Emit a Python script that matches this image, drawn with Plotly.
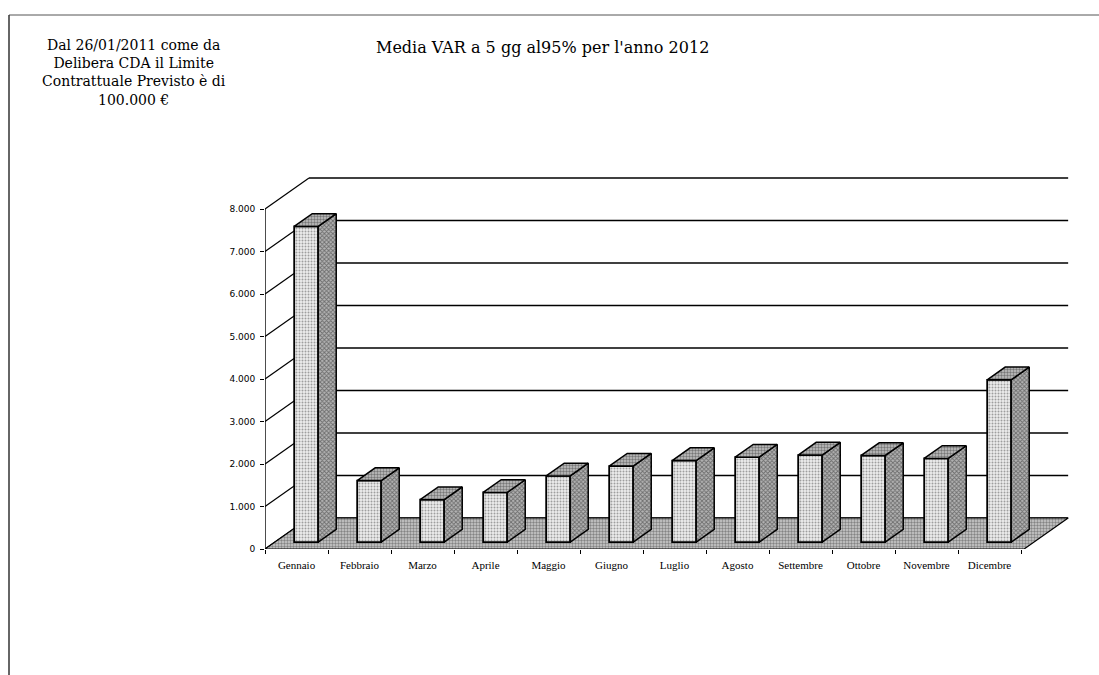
import plotly.graph_objects as go

# Monthly average VaR (5 days, 95%) for 2012
mesi = ["Gennaio", "Febbraio", "Marzo", "Aprile", "Maggio", "Giugno",
        "Luglio", "Agosto", "Settembre", "Ottobre", "Novembre", "Dicembre"]
var_medio = [7430, 1450, 1000, 1170, 1560, 1790, 1920, 2000, 2050, 2040, 1970, 3820]
y_ticks = [0, 1000, 2000, 3000, 4000, 5000, 6000, 7000, 8000]
y_tick_text = ["0", "1.000", "2.000", "3.000", "4.000", "5.000", "6.000", "7.000", "8.000"]

# Page / plot-area geometry (pixels)
W, H = 1099, 675
ML, MR, MT, MB = 265, 24, 170, 126
PW, PH = W - ML - MR, H - MT - MB
PX_PER_CAT = 63.0            # horizontal pixels per category
PX_PER_UNIT = 0.0425         # vertical pixels per euro
X0 = -0.5
X1 = X0 + PW / PX_PER_CAT
Y1 = PH / PX_PER_UNIT

# Oblique depth of the 3-D box (in data units)
DX = 44 / PX_PER_CAT
DY = 31 / PX_PER_UNIT
F0, F1 = 0.22, 0.63          # depth fractions of bar front and back faces
BAR_W = 24 / PX_PER_CAT
X_END = len(mesi) - 0.45     # right end of the floor front edge


def paper(px, py):
    return (px - ML) / PW, (H - MB - py) / PH


fig = go.Figure()

# Floor of the chart
fig.add_trace(go.Scatter(
    x=[X0, X_END, X_END + DX, X0 + DX, X0],
    y=[0, 0, DY, DY, 0],
    mode="lines", fill="toself",
    line=dict(color="black", width=1.2),
    fillcolor="#b8b8b8",
    fillpattern=dict(shape=".", fgcolor="#3c3c3c", bgcolor="#cdcdcd", size=3, solidity=0.5),
    hoverinfo="skip", showlegend=False, zorder=0,
))

# Bar front faces
b0 = F0 * DY
fig.add_trace(go.Bar(
    x=list(range(len(mesi))), y=var_medio, base=b0,
    width=BAR_W, offset=F0 * DX - BAR_W / 2,
    marker=dict(color="#dddddd", line=dict(color="black", width=1.8),
                pattern=dict(shape=".", fgcolor="#505050", bgcolor="#ececec", size=3, solidity=0.35)),
    hoverinfo="skip", showlegend=False, zorder=1,
))

# Bar side and top faces
d = F1 - F0
sx, sy, tx, ty = [], [], [], []
for i, v in enumerate(var_medio):
    xl = i + F0 * DX - BAR_W / 2
    xr = xl + BAR_W
    top = b0 + v
    sx += [xr, xr + d * DX, xr + d * DX, xr, xr, None]
    sy += [b0, b0 + d * DY, top + d * DY, top, b0, None]
    tx += [xl, xr, xr + d * DX, xl + d * DX, xl, None]
    ty += [top, top, top + d * DY, top + d * DY, top, None]

fig.add_trace(go.Scatter(
    x=sx, y=sy, mode="lines", fill="toself",
    line=dict(color="black", width=1.5), fillcolor="#8a8a8a",
    fillpattern=dict(shape="x", fgcolor="#262626", bgcolor="#b4b4b4", size=3, solidity=0.5),
    hoverinfo="skip", showlegend=False, zorder=2,
))
fig.add_trace(go.Scatter(
    x=tx, y=ty, mode="lines", fill="toself",
    line=dict(color="black", width=1.5), fillcolor="#a0a0a0",
    fillpattern=dict(shape=".", fgcolor="#2a2a2a", bgcolor="#c4c4c4", size=3, solidity=0.5),
    hoverinfo="skip", showlegend=False, zorder=2,
))

shapes = []
# Back-wall gridlines and left-wall diagonals
for v in y_ticks:
    shapes.append(dict(type="line", xref="x", yref="y", layer="below",
                       x0=X0 + DX, y0=v + DY, x1=X_END + DX, y1=v + DY,
                       line=dict(color="black", width=1.5)))
    shapes.append(dict(type="line", xref="x", yref="y", layer="below",
                       x0=X0, y0=v, x1=X0 + DX, y1=v + DY,
                       line=dict(color="black", width=1.2)))
# Value axis line
shapes.append(dict(type="line", xref="x", yref="y", x0=X0, y0=0, x1=X0, y1=y_ticks[-1],
                   line=dict(color="black", width=1.4)))
# Page frame
shapes.append(dict(type="line", xref="paper", yref="paper",
                   x0=paper(9, 0)[0], y0=paper(0, 15)[1], x1=paper(W, 0)[0], y1=paper(0, 15)[1],
                   line=dict(color="#555555", width=1)))
shapes.append(dict(type="line", xref="paper", yref="paper",
                   x0=paper(9, 0)[0], y0=paper(0, 15)[1], x1=paper(9, 0)[0], y1=paper(0, H)[1],
                   line=dict(color="#333333", width=1.5)))

annotations = []
tx_, ty_ = paper(542, 36)
annotations.append(dict(
    x=tx_, y=ty_, xref="paper", yref="paper", xanchor="center", yanchor="top",
    text="Media VAR a 5 gg al95% per l'anno 2012", showarrow=False,
    font=dict(family="DejaVu Serif", size=16, color="black"),
))
nx, ny = paper(134, 35)
annotations.append(dict(
    x=nx, y=ny, xref="paper", yref="paper", xanchor="center", yanchor="top", align="center",
    text="Dal 26/01/2011 come da<br>Delibera CDA il Limite<br>Contrattuale Previsto è di<br>100.000 €",
    showarrow=False, font=dict(family="DejaVu Serif", size=14, color="black"),
))

fig.update_layout(
    width=W, height=H,
    margin=dict(l=ML, r=MR, t=MT, b=MB),
    paper_bgcolor="white", plot_bgcolor="white",
    showlegend=False,
    shapes=shapes, annotations=annotations,
    xaxis=dict(
        range=[X0, X1], showgrid=False, zeroline=False, showline=False,
        tickmode="array", tickvals=list(range(len(mesi))), ticktext=mesi, ticks="",
        ticklabelstandoff=8,
        tickfont=dict(family="Liberation Serif", size=11, color="black"),
        minor=dict(ticks="outside", tick0=-0.5, dtick=1, ticklen=4, tickcolor="black", tickwidth=1),
    ),
    yaxis=dict(
        range=[0, Y1], showgrid=False, zeroline=False, showline=False,
        tickmode="array", tickvals=y_ticks, ticktext=y_tick_text,
        ticks="outside", ticklen=4, tickcolor="black", ticklabelstandoff=3,
        tickfont=dict(family="DejaVu Sans", size=9, color="black"),
    ),
)

fig.write_html("out.html")
